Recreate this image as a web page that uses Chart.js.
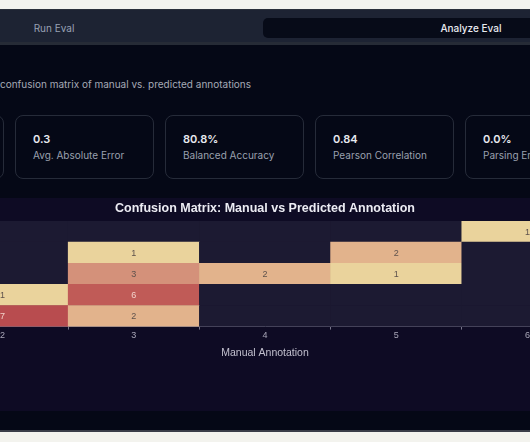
<!DOCTYPE html>
<html>
<head>
<meta charset="utf-8">
<script src="https://cdn.jsdelivr.net/npm/chart.js@4"></script>
<style>
  html, body { margin: 0; padding: 0; }
  body {
    width: 530px; height: 442px; overflow: hidden; position: relative;
    background: #f3f3ee; font-family: Inter, "Noto Sans", sans-serif;
  }
  .page { position: absolute; left: 0; top: 9px; width: 530px; height: 421px; background: #050816; border-bottom: 2px solid #3a3d48; }
  .tabs { position: absolute; left: 0; top: 0; width: 530px; height: 36px; background: #1d2333; border-top: 1px solid #2b303b; border-bottom: 3px solid #262b36; box-sizing: border-box; }
  .tab { position: absolute; font-size: 10px; top: 8px; height: 20px; line-height: 20px; text-align: center; }
  .tab.run { left: -154px; width: 416px; color: #98a1b3; }
  .tab.analyze { left: 263px; width: 416px; background: #070b18; border-radius: 5px; color: #e8eaf0; font-weight: 500; }
  .desc { position: absolute; left: 0; top: 69px; font-size: 10px; color: #a5aab6; white-space: nowrap; }
  .card { position: absolute; top: 106px; width: 139px; height: 64px; border: 1px solid #262b39; border-radius: 8px; box-sizing: border-box; }
  .card .val { position: absolute; left: 17px; top: 16px; font-size: 11px; font-weight: 600; color: #e8eaf0; }
  .card .lbl { position: absolute; left: 17px; top: 33px; font-size: 10px; color: #9aa0ae; white-space: nowrap; }
  .panel { position: absolute; left: 0; top: 189px; width: 530px; height: 213px; background: #0e0b24; overflow: hidden; }
  .panel canvas { position: absolute; left: -63px; top: 0; }
</style>
</head>
<body>
<div class="page">
  <div class="tabs">
    <div class="tab run">Run Eval</div>
    <div class="tab analyze">Analyze Eval</div>
  </div>
  <div class="desc">confusion matrix of manual vs. predicted annotations</div>
  <div class="card" style="left:-135px"></div>
  <div class="card" style="left:15px"><div class="val">0.3</div><div class="lbl">Avg. Absolute Error</div></div>
  <div class="card" style="left:165px"><div class="val">80.8%</div><div class="lbl">Balanced Accuracy</div></div>
  <div class="card" style="left:315px"><div class="val">0.84</div><div class="lbl">Pearson Correlation</div></div>
  <div class="card" style="left:465px"><div class="val">0.0%</div><div class="lbl">Parsing Errors</div></div>
  <div class="panel">
    <canvas id="matrix" width="656" height="213"></canvas>
  </div>
</div>
<script>
// manual annotation (x) categories and predicted annotation (y) rows
const manualLabels = ['2', '3', '4', '5', '6'];
const predictedRows = [2, 3, 4, 5, 6];

// counts per predicted row, in manual order 2..6
const predicted2 = [7, 2, 0, 0, 0];
const predicted3 = [1, 6, 0, 0, 0];
const predicted4 = [0, 3, 2, 1, 0];
const predicted5 = [0, 1, 0, 2, 0];
const predicted6 = [0, 0, 0, 0, 1];
const countRows = [predicted2, predicted3, predicted4, predicted5, predicted6];

// colour scale stops (count -> rgb)
const scaleStops = [
  [1, [234, 211, 156]],
  [2, [226, 179, 140]],
  [3, [212, 145, 122]],
  [6, [192, 91, 87]],
  [7, [184, 76, 79]]
];
const emptyColor = '#1c1a32';

function cellColor(v) {
  if (!v) return emptyColor;
  for (let i = 0; i < scaleStops.length - 1; i++) {
    const a = scaleStops[i], b = scaleStops[i + 1];
    if (v <= b[0]) {
      const t = Math.max(0, (v - a[0]) / (b[0] - a[0]));
      const c = a[1].map((ch, k) => Math.round(ch + (b[1][k] - ch) * t));
      return `rgb(${c[0]},${c[1]},${c[2]})`;
    }
  }
  const last = scaleStops[scaleStops.length - 1][1];
  return `rgb(${last[0]},${last[1]},${last[2]})`;
}

const datasets = predictedRows.map((row, i) => ({
  label: 'Predicted ' + row,
  data: manualLabels.map(() => [row - 0.5, row + 0.5]),
  counts: countRows[i],
  backgroundColor: countRows[i].map(cellColor),
  borderWidth: 0,
  borderSkipped: false,
  barPercentage: 1,
  categoryPercentage: 1,
  grouped: false
}));

const cellLabels = {
  id: 'cellLabels',
  afterDatasetsDraw(chart) {
    const ctx = chart.ctx;
    ctx.save();
    ctx.font = '9px "Liberation Sans", Arial, sans-serif';
    ctx.textAlign = 'center';
    ctx.textBaseline = 'middle';
    chart.data.datasets.forEach((ds, i) => {
      chart.getDatasetMeta(i).data.forEach((bar, j) => {
        const v = ds.counts[j];
        if (!v) return;
        const p = bar.getProps(['x', 'y', 'base'], true);
        ctx.fillStyle = v >= 5 ? '#f2d2ca' : '#5e524c';
        ctx.fillText(String(v), p.x, (p.y + p.base) / 2 + 0.5);
      });
    });
    ctx.restore();
  }
};

Chart.defaults.font.family = '"Liberation Sans", Arial, sans-serif';

new Chart(document.getElementById('matrix'), {
  type: 'bar',
  data: { labels: manualLabels, datasets: datasets },
  plugins: [cellLabels],
  options: {
    responsive: false,
    animation: false,
    layout: { padding: { top: 0, left: 0, right: 0, bottom: 52 } },
    plugins: {
      legend: { display: false },
      tooltip: { enabled: false },
      title: {
        display: true,
        text: 'Confusion Matrix: Manual vs Predicted Annotation',
        color: '#ececf3',
        font: { size: 12.5, weight: 'bold' },
        padding: { top: 3.5, bottom: 4.5 }
      }
    },
    scales: {
      x: {
        offset: true,
        grid: { display: true, drawOnChartArea: false, drawTicks: true, tickLength: 3, color: '#77758a', offset: true },
        border: { display: true, color: '#6c6a80' },
        ticks: { color: '#a9a7b8', font: { size: 9 }, padding: 1 },
        title: { display: true, text: 'Manual Annotation', color: '#c2c0ce', font: { size: 10.5 }, padding: { top: 4, bottom: 0 } }
      },
      y: {
        display: false,
        min: 1.5,
        max: 6.5
      }
    }
  }
});
</script>
</body>
</html>
